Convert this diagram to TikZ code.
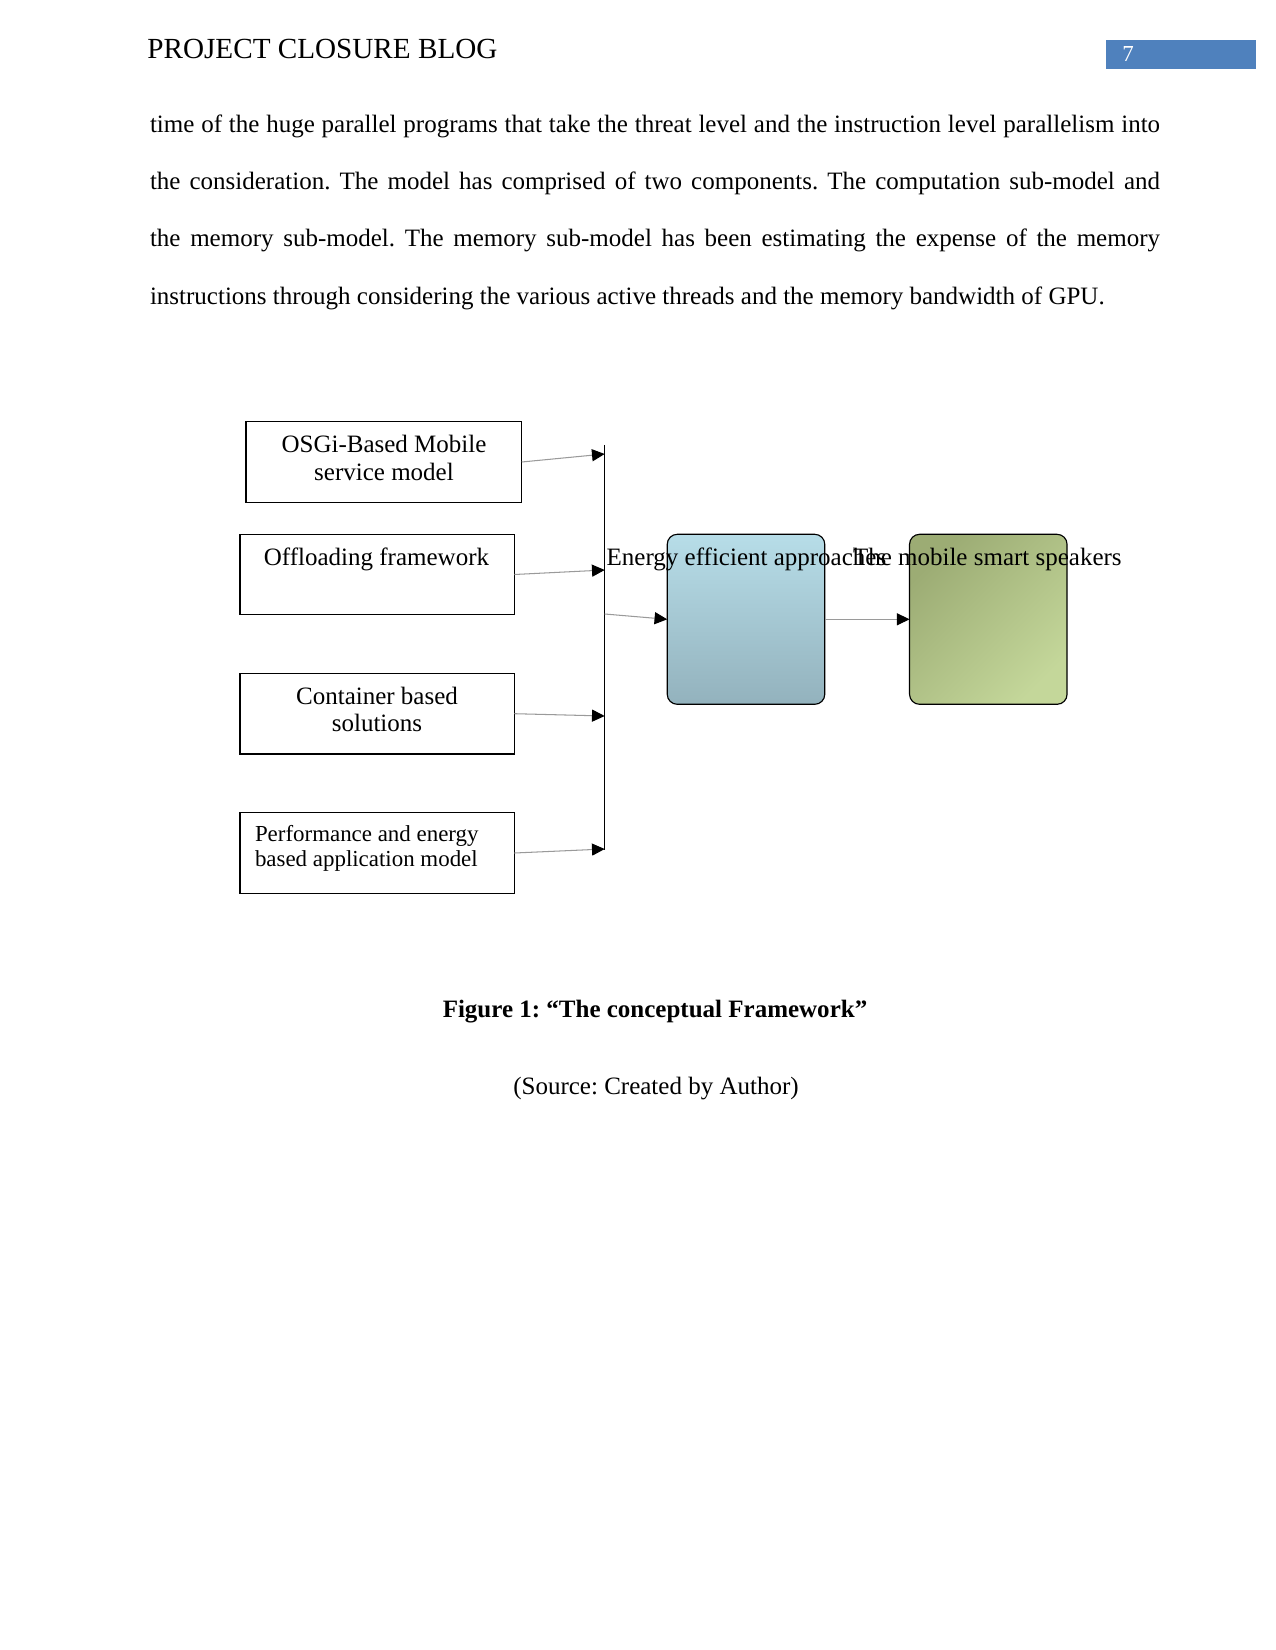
\documentclass[tikz,border=0pt]{standalone}
\usepackage{fontspec}
\setmainfont{Liberation Serif}
\usetikzlibrary{arrows.meta}
\frenchspacing
\definecolor{hdrblue}{HTML}{4F81BD}
\definecolor{bluetop}{HTML}{B7DDE8}
\definecolor{bluebot}{HTML}{93B2BD}
\definecolor{greendark}{HTML}{9CAC74}
\definecolor{greenlight}{HTML}{C4D79A}
\definecolor{linkgray}{HTML}{9A9A9A}
\tikzset{
  txt/.style={inner sep=0pt, outer sep=0pt, font=\fontsize{12}{13.8}\selectfont},
  smalltxt/.style={inner sep=0pt, outer sep=0pt, font=\fontsize{11}{12.6}\selectfont},
  srcbox/.style={draw=black, line width=0.55pt, inner sep=0pt, outer sep=0pt,
    minimum width=274.5*0.48pt, minimum height=80.7*0.48pt},
  bigbox/.style={draw=black, line width=0.55pt, inner sep=0pt, outer sep=0pt,
    rounded corners=4.8pt, minimum width=157.5*0.48pt, minimum height=170*0.48pt},
  link/.style={draw=linkgray, line width=0.5pt,
    -{Triangle[length=6.1pt,width=5.8pt,color=black,fill=black]}},
  bodyline/.style={inner sep=0pt, outer sep=0pt, anchor=base west,
    font=\fontsize{12}{13.8}\selectfont}
}
\newcommand{\jline}[1]{\makebox[484.8pt][s]{#1}}
\begin{document}
\begin{tikzpicture}[x=0.48pt,y=-0.48pt]
\useasboundingbox[fill=white] (0,0) rectangle (1275,1650);

% header
\node[inner sep=0pt, anchor=base west, font=\fontsize{14}{16}\selectfont] (hdr) at (147,58.3) {PROJECT CLOSURE BLOG};
\fill[hdrblue] (1106,40) rectangle (1256,68.7);
\node[inner sep=0pt, anchor=base west, text=white, font=\fontsize{11}{13}\selectfont] (pg) at (1122,62) {7};

% body text
\node[bodyline] (l1) at (150,132.5) {\jline{time of the huge parallel programs that take the threat level and the instruction level parallelism into}};
\node[bodyline] (l2) at (150,190) {\jline{the consideration. The model has comprised of two components. The computation sub-model and}};
\node[bodyline] (l3) at (150,247) {\jline{the memory sub-model. The memory sub-model has been estimating the expense of the memory}};
\node[bodyline] (l4) at (150,304.5) {instructions through considering the various active threads and the memory bandwidth of GPU.};

% source boxes
\node[srcbox, minimum width=275.7*0.48pt] (b1) at (383.9,462) {};
\node[srcbox] (b2) at (377.2,574.5) {};
\node[srcbox] (b3) at (377.2,713.7) {};
\node[srcbox] (b4) at (377.2,853) {};

\node[txt, anchor=base] (t1a) at (384,452.3) {OSGi-Based Mobile};
\node[txt, anchor=base] (t1b) at (384,481) {service model};
\node[txt, anchor=base] (t2a) at (376.5,565) {Offloading framework};
\node[txt, anchor=base] (t3a) at (377,704.3) {Container based};
\node[txt, anchor=base] (t3b) at (377,731.7) {solutions};
\node[smalltxt, anchor=base west] (t4a) at (255,841.7) {Performance and energy};
\node[smalltxt, anchor=base west] (t4b) at (255,866.7) {based application model};

% collector bar
\coordinate (bartop) at (604.7,445);
\coordinate (barbot) at (604.7,850);
\draw[black, line width=0.65pt] (bartop) -- (barbot);
\coordinate (in1) at (604.7,454);
\coordinate (in2) at (604.7,570);
\coordinate (out) at (604.7,614);
\coordinate (in3) at (604.7,716);
\coordinate (in4) at (604.7,849);

% target boxes
\node[bigbox, top color=bluetop, bottom color=bluebot] (eff) at (746,619.3) {};
\node[bigbox, shading=axis, left color=greendark, right color=greenlight, shading angle=45] (spk) at (988.3,619.3) {};

% arrows
\draw[link] (b1.east) -- (in1);
\draw[link] (b2.east) -- (in2);
\draw[link] (b3.east) -- (in3);
\draw[link] (b4.east) -- (in4);
\draw[link] (out) -- (eff.west);
\draw[link] (eff.east) -- (spk.west);

% overflowing labels
\node[txt, anchor=base west] (effl) at (606.7,565) {Energy efficient approaches};
\node[txt, anchor=base west] (spkl) at (853,565) {The mobile smart speakers};

% caption
\node[txt, anchor=base, font=\fontsize{12}{13.8}\selectfont\bfseries] (cap) at (655,1017) {Figure 1: “The conceptual Framework”};
\node[txt, anchor=base] (src) at (656,1094) {(Source: Created by Author)};
\end{tikzpicture}
\end{document}
